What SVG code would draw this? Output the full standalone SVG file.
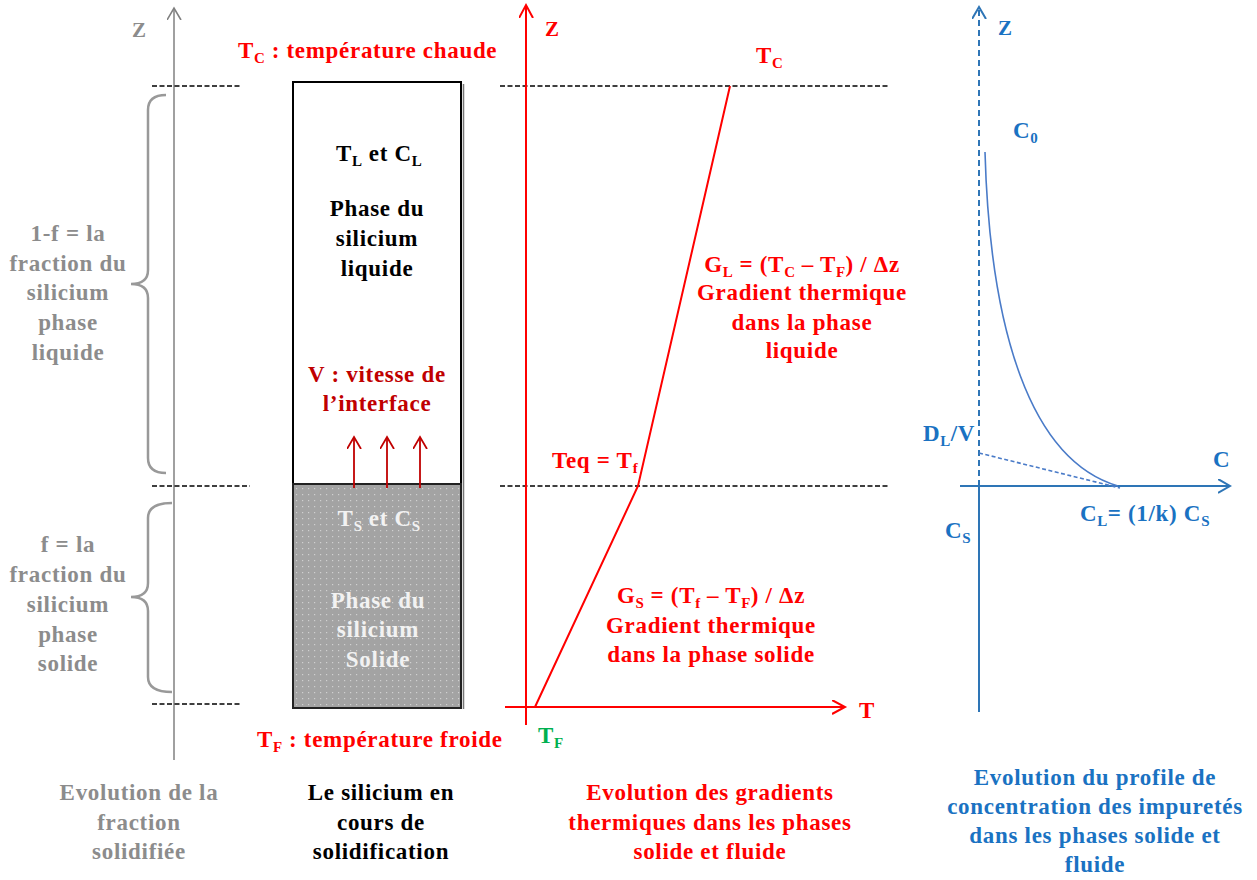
<svg xmlns="http://www.w3.org/2000/svg" width="1257" height="880" viewBox="0 0 1257 880">
<style>
text{font-family:"Liberation Serif","Times New Roman",serif;font-weight:bold;font-size:23px;letter-spacing:0.7px}
.c{text-anchor:middle}
.gray{fill:#8c8c8c}
.blk{fill:#000}
.red{fill:#ff0000}
.dred{fill:#c00000}
.wht{fill:#f2f2f2}
.grn{fill:#00b050}
.blu{fill:#1a72c2}
.dash{stroke:#000;stroke-width:1.5;stroke-dasharray:5 2.5;fill:none}
.sub{font-size:15px;letter-spacing:0.3px}
</style>
<defs>
<pattern id="dots" width="6" height="6" patternUnits="userSpaceOnUse">
<rect width="6" height="6" fill="#a3a3a3"/>
<rect x="2" y="2" width="1.2" height="1.2" fill="#d0d0d0"/>
</pattern>
<marker id="ag" markerWidth="16" markerHeight="16" refX="12" refY="7" orient="auto" markerUnits="userSpaceOnUse">
<path d="M0,0 L12,7 L0,14" fill="none" stroke="#808080" stroke-width="1.6"/>
</marker>
<marker id="ar" markerWidth="16" markerHeight="16" refX="13" refY="7" orient="auto" markerUnits="userSpaceOnUse">
<path d="M0,0 L13,7 L0,14" fill="none" stroke="#ff0000" stroke-width="2"/>
</marker>
<marker id="adr" markerWidth="16" markerHeight="16" refX="12" refY="7" orient="auto" markerUnits="userSpaceOnUse">
<path d="M0,0 L12,7 L0,14" fill="none" stroke="#c00000" stroke-width="1.8"/>
</marker>
<marker id="ab" markerWidth="16" markerHeight="16" refX="12" refY="7" orient="auto" markerUnits="userSpaceOnUse">
<path d="M0,0 L12,7 L0,14" fill="none" stroke="#2e75b6" stroke-width="2"/>
</marker>
</defs>
<rect width="1257" height="880" fill="#fff"/>

<!-- Left panel: fraction -->
<g id="left-axis">
<line x1="174" y1="760" x2="174" y2="8" stroke="#808080" stroke-width="1.5" marker-end="url(#ag)"/>
<text class="gray" x="132" y="37" style="font-size:21px">Z</text>
</g>
<g id="dashes-left">
<line class="dash" x1="152" y1="86" x2="242" y2="86"/>
<line class="dash" x1="152" y1="486" x2="250" y2="486"/>
<line class="dash" x1="152" y1="704" x2="242" y2="704"/>
</g>
<g id="brace-liquid">
<path d="M166,95 Q148,95 148,110 L148,270 Q148,284 131,284 Q148,284 148,298 L148,458 Q148,473 166,473" fill="none" stroke="#999" stroke-width="2.5"/>
<text class="gray c" x="68" y="241">1-f = la</text>
<text class="gray c" x="68" y="271">fraction du</text>
<text class="gray c" x="68" y="300">silicium</text>
<text class="gray c" x="68" y="330">phase</text>
<text class="gray c" x="68" y="360">liquide</text>
</g>
<g id="brace-solid">
<path d="M172,503 Q148,503 148,518 L148,583 Q148,597 131,597 Q148,597 148,611 L148,677 Q148,692 172,692" fill="none" stroke="#999" stroke-width="2.5"/>
<text class="gray c" x="68" y="552">f = la</text>
<text class="gray c" x="68" y="582">fraction du</text>
<text class="gray c" x="68" y="612">silicium</text>
<text class="gray c" x="68" y="642">phase</text>
<text class="gray c" x="68" y="671">solide</text>
</g>
<g id="caption-fraction">
<text class="gray c" x="139" y="800">Evolution de la</text>
<text class="gray c" x="139" y="830">fraction</text>
<text class="gray c" x="139" y="859">solidifiée</text>
</g>

<!-- Column -->
<g id="label-TC">
<text class="red" x="238" y="58">T<tspan class="sub" dy="5">C</tspan><tspan dy="-5"> : température  chaude</tspan></text>
</g>
<g id="liquid-phase">
<line x1="463.5" y1="84" x2="463.5" y2="484" stroke="#777" stroke-width="1.5"/>
<rect x="293" y="82" width="168" height="402" fill="#fff" stroke="#000" stroke-width="2"/>
<text class="blk c" x="379" y="161">T<tspan class="sub" dy="5">L</tspan><tspan dy="-5"> et C</tspan><tspan class="sub" dy="5">L</tspan></text>
<text class="blk c" x="377" y="216">Phase du</text>
<text class="blk c" x="377" y="246">silicium</text>
<text class="blk c" x="377" y="276">liquide</text>
<text class="dred c" x="377" y="382">V : vitesse de</text>
<text class="dred c" x="377" y="411">l’interface</text>
</g>
<g id="solid-phase">
<line x1="463.5" y1="484" x2="463.5" y2="709" stroke="#777" stroke-width="1.5"/>
<rect x="293" y="484" width="168" height="224" fill="url(#dots)" stroke="#222" stroke-width="2"/>
<text class="wht c" x="379" y="526">T<tspan class="sub" dy="5">S</tspan><tspan dy="-5"> et C</tspan><tspan class="sub" dy="5">S</tspan></text>
<text class="wht c" x="378" y="608">Phase du</text>
<text class="wht c" x="378" y="637">silicium</text>
<text class="wht c" x="378" y="667">Solide</text>
</g>
<g id="interface-arrows">
<line x1="354" y1="488" x2="354" y2="437" stroke="#c00000" stroke-width="1.8" marker-end="url(#adr)"/>
<line x1="387" y1="488" x2="387" y2="437" stroke="#c00000" stroke-width="1.8" marker-end="url(#adr)"/>
<line x1="420" y1="488" x2="420" y2="437" stroke="#c00000" stroke-width="1.8" marker-end="url(#adr)"/>
</g>
<g id="label-TF">
<text class="red" x="257" y="747">T<tspan class="sub" dy="5">F</tspan><tspan dy="-5"> : température  froide</tspan></text>
</g>
<g id="caption-column">
<text class="blk c" x="381" y="800">Le silicium en</text>
<text class="blk c" x="381" y="830">cours de</text>
<text class="blk c" x="381" y="859">solidification</text>
</g>

<!-- Temperature graph -->
<g id="dashes-right">
<line class="dash" x1="500" y1="86" x2="890" y2="86"/>
<line class="dash" x1="500" y1="486" x2="890" y2="486"/>
</g>
<g id="temp-axes">
<line x1="526" y1="725" x2="526" y2="5" stroke="#ff0000" stroke-width="2" marker-end="url(#ar)"/>
<line x1="505" y1="707" x2="845" y2="707" stroke="#ff0000" stroke-width="2" marker-end="url(#ar)"/>
<text class="red" x="545" y="36" style="font-size:21px">Z</text>
<text class="red" x="859" y="718">T</text>
</g>
<g id="temp-profile">
<polyline points="535,707 638,486 730,86" fill="none" stroke="#ff0000" stroke-width="2"/>
<text class="red" x="756" y="63">T<tspan class="sub" dy="5">C</tspan></text>
<text class="red" x="552" y="468">Teq = T<tspan class="sub" dy="5">f</tspan></text>
<text class="grn" x="538" y="743">T<tspan class="sub" dy="5">F</tspan></text>
</g>
<g id="label-GL">
<text class="red c" x="802" y="272">G<tspan class="sub" dy="5">L</tspan><tspan dy="-5"> = (T</tspan><tspan class="sub" dy="5">C</tspan><tspan dy="-5"> – T</tspan><tspan class="sub" dy="5">F</tspan><tspan dy="-5">) / Δz</tspan></text>
<text class="red c" x="802" y="300">Gradient thermique</text>
<text class="red c" x="802" y="330">dans la phase</text>
<text class="red c" x="802" y="358">liquide</text>
</g>
<g id="label-GS">
<text class="red c" x="711" y="603">G<tspan class="sub" dy="5">S</tspan><tspan dy="-5"> = (T</tspan><tspan class="sub" dy="5">f</tspan><tspan dy="-5"> – T</tspan><tspan class="sub" dy="5">F</tspan><tspan dy="-5">) / Δz</tspan></text>
<text class="red c" x="711" y="633">Gradient thermique</text>
<text class="red c" x="711" y="662">dans la phase solide</text>
</g>
<g id="caption-temp">
<text class="red c" x="710" y="800">Evolution des gradients</text>
<text class="red c" x="710" y="830">thermiques dans les phases</text>
<text class="red c" x="710" y="859">solide et fluide</text>
</g>

<!-- Concentration graph -->
<g id="conc-axes">
<line x1="979" y1="486" x2="979" y2="7" stroke="#2e75b6" stroke-width="2" stroke-dasharray="6 4" marker-end="url(#ab)"/>
<line x1="979" y1="486" x2="979" y2="712" stroke="#2e75b6" stroke-width="2"/>
<line x1="960" y1="486" x2="1230" y2="486" stroke="#2e75b6" stroke-width="2" marker-end="url(#ab)"/>
<text class="blu" x="998" y="35" style="font-size:21px">Z</text>
<text class="blu" x="1213" y="467">C</text>
</g>
<g id="conc-profile">
<path d="M985,152 C990,330 1030,460 1118,486" fill="none" stroke="#4a7bc8" stroke-width="1.6"/>
<line x1="979" y1="453" x2="1120" y2="488" stroke="#4a7bc8" stroke-width="1.6" stroke-dasharray="4 2.5"/>
<text class="blu" x="1013" y="138">C<tspan class="sub" dy="5">0</tspan></text>
<text class="blu" x="923" y="441">D<tspan class="sub" dy="5">L</tspan><tspan dy="-5">/V</tspan></text>
<text class="blu" x="1080" y="521">C<tspan class="sub" dy="5">L</tspan><tspan dy="-5">= (1/k) C</tspan><tspan class="sub" dy="5">S</tspan></text>
<text class="blu" x="945" y="538">C<tspan class="sub" dy="5">S</tspan></text>
</g>
<g id="caption-conc">
<text class="blu c" x="1095" y="785">Evolution du profile de</text>
<text class="blu c" x="1095" y="814">concentration des impuretés</text>
<text class="blu c" x="1095" y="843">dans les phases solide et</text>
<text class="blu c" x="1095" y="872">fluide</text>
</g>
</svg>
